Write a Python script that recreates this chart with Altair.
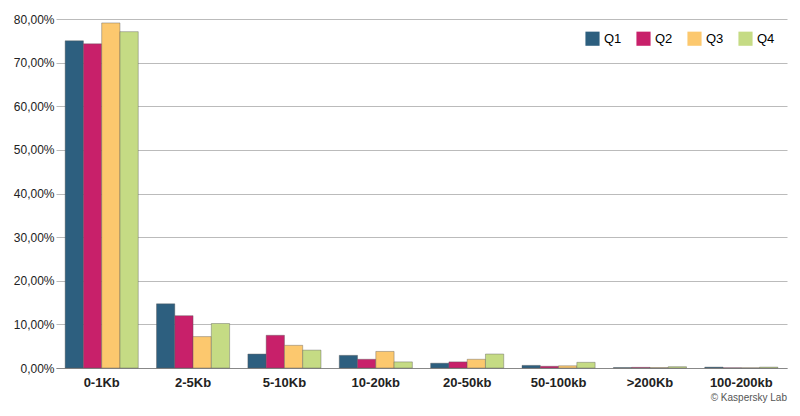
import altair as alt
import pandas as pd

categories = ["0-1Kb", "2-5Kb", "5-10Kb", "10-20kb", "20-50kb", "50-100kb", ">200Kb", "100-200kb"]
quarters = ["Q1", "Q2", "Q3", "Q4"]
q1 = [75.0, 14.7, 3.2, 2.9, 1.1, 0.6, 0.1, 0.2]
q2 = [74.3, 12.0, 7.5, 2.0, 1.4, 0.4, 0.15, 0.05]
q3 = [79.1, 7.2, 5.2, 3.8, 2.0, 0.5, 0.1, 0.05]
q4 = [77.1, 10.2, 4.1, 1.4, 3.2, 1.3, 0.3, 0.2]
colors = ["#2d5f7f", "#c8206a", "#fcc86e", "#c5db84"]

rows = []
for q, vals in zip(quarters, [q1, q2, q3, q4]):
    for c, v in zip(categories, vals):
        rows.append({"cat": c, "q": q, "v": v})
df = pd.DataFrame(rows)

font = "Liberation Sans"

chart = alt.Chart(df).mark_bar(stroke="#555", strokeWidth=0.4).encode(
    x=alt.X("cat:N", sort=categories, title=None,
            scale=alt.Scale(paddingInner=0.2, paddingOuter=0.1),
            axis=alt.Axis(labelAngle=0, labelFontWeight="bold", labelFontSize=13,
                          labelColor="#222", domainColor="#888", ticks=False, labelPadding=8)),
    xOffset=alt.XOffset("q:N", sort=quarters),
    y=alt.Y("v:Q", title=None, scale=alt.Scale(domain=[0, 80]),
            axis=alt.Axis(values=list(range(0, 81, 10)), gridColor="#bbb", domain=False,
                          ticks=False, labelFontSize=12, labelColor="#222",
                          labelExpr="replace(format(datum.value, '.2f'), '.', ',') + '%'")),
    color=alt.Color("q:N", sort=quarters, scale=alt.Scale(domain=quarters, range=colors),
                    legend=alt.Legend(title=None, orient="top-right", direction="horizontal",
                                      symbolType="square", symbolSize=200, symbolStrokeWidth=0,
                                      labelFontSize=13, columnPadding=14, offset=12)),
).properties(
    width=784, height=400,
    autosize=alt.AutoSizeParams(type="fit", contains="padding"),
    title=alt.TitleParams("© Kaspersky Lab", orient="bottom", anchor="end",
                          fontSize=10, fontWeight="normal", color="#555", offset=4),
).configure(font=font).configure_view(stroke=None)

chart.save("out.html", embed_options={"renderer": "svg", "actions": False})
